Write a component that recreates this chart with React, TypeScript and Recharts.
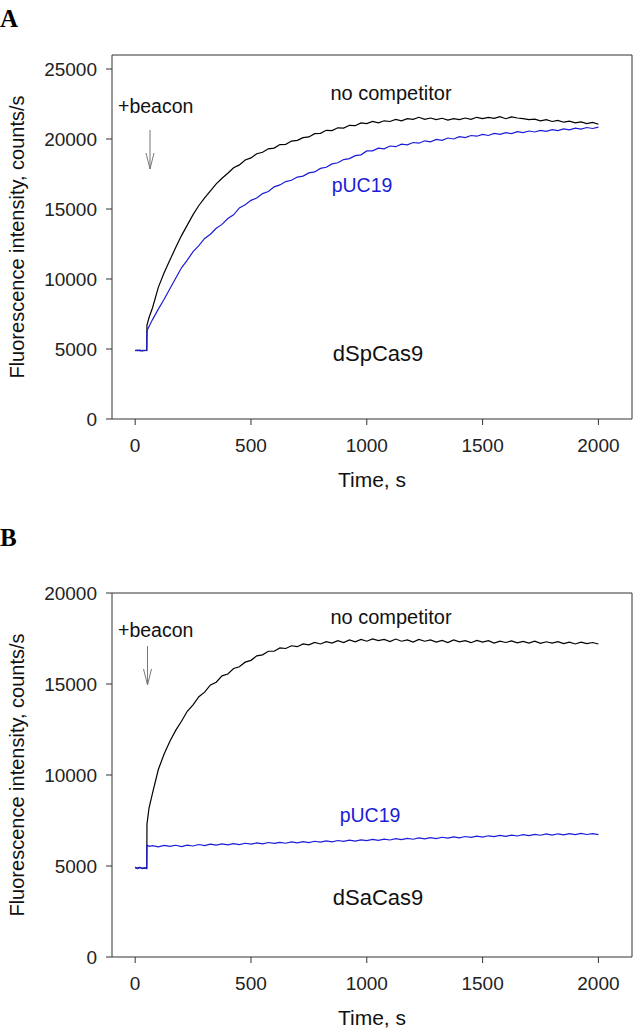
import React from "react";
import { LineChart, Line, XAxis, YAxis, ReferenceLine } from "recharts";

// sampling times, s (shared by all four traces)
const time = [
  0, 10, 20, 30, 40, 50, 51, 60,
  75, 100, 125, 150, 175, 200, 225, 250,
  275, 300, 325, 350, 375, 400, 425, 450,
  475, 500, 525, 550, 575, 600, 625, 650,
  675, 700, 725, 750, 775, 800, 825, 850,
  875, 900, 925, 950, 975, 1000, 1025, 1050,
  1075, 1100, 1125, 1150, 1175, 1200, 1225, 1250,
  1275, 1300, 1325, 1350, 1375, 1400, 1425, 1450,
  1475, 1500, 1525, 1550, 1575, 1600, 1625, 1650,
  1675, 1700, 1725, 1750, 1775, 1800, 1825, 1850,
  1875, 1900, 1925, 1950, 1975, 2000,
];

// panel A: dSpCas9
const noCompetitorA = [
  4900, 4880, 4920, 4870, 4910, 4890, 6700, 7250,
  7950, 9400, 10450, 11350, 12250, 13100, 13850, 14600,
  15250, 15800, 16300, 16800, 17200, 17550, 17950, 18150,
  18500, 18650, 18950, 19050, 19300, 19350, 19600, 19620,
  19850, 19900, 20100, 20150, 20380, 20400, 20620, 20600,
  20800, 20780, 20980, 20950, 21150, 21100, 21250, 21150,
  21300, 21250, 21400, 21300, 21450, 21400, 21550, 21400,
  21500, 21380, 21480, 21350, 21450, 21380, 21500, 21400,
  21550, 21450, 21550, 21480, 21600, 21450, 21580, 21500,
  21450, 21380, 21420, 21300, 21380, 21250, 21330, 21200,
  21280, 21150, 21220, 21100, 21180, 21050,
];
const pUC19A = [
  4880, 4920, 4870, 4900, 4890, 4910, 6300, 6600,
  7100, 7850, 8550, 9300, 10050, 10800, 11350, 11950,
  12380, 12900, 13200, 13620, 13900, 14320, 14580, 15080,
  15300, 15620, 15780, 16100, 16250, 16580, 16720, 16960,
  17050, 17280, 17350, 17580, 17650, 17900, 17980, 18220,
  18300, 18530, 18600, 18810, 18870, 19150, 19150, 19350,
  19300, 19500, 19450, 19630, 19580, 19750, 19700, 19870,
  19800, 19970, 19900, 20070, 20000, 20170, 20100, 20250,
  20200, 20330, 20250, 20400, 20330, 20460, 20380, 20520,
  20450, 20570, 20500, 20620, 20550, 20670, 20600, 20720,
  20650, 20770, 20700, 20820, 20750, 20850,
];

// panel B: dSaCas9
const noCompetitorB = [
  4900, 4880, 4920, 4870, 4900, 4890, 7300, 8200,
  9000, 10300, 11150, 11850, 12450, 12950, 13500, 13850,
  14300, 14550, 14950, 15100, 15450, 15550, 15850, 15950,
  16200, 16300, 16550, 16600, 16800, 16800, 16980, 16950,
  17100, 17050, 17200, 17150, 17280, 17200, 17330, 17250,
  17380, 17280, 17420, 17320, 17450, 17350, 17480, 17380,
  17450, 17330, 17470, 17350, 17420, 17300, 17450, 17350,
  17420, 17300, 17400, 17280, 17420, 17320, 17380, 17270,
  17400, 17300, 17380, 17250, 17350, 17280, 17370, 17260,
  17340, 17250, 17350, 17230, 17320, 17250, 17330, 17220,
  17300, 17200, 17300, 17220, 17280, 17200,
];
const pUC19B = [
  4950, 4850, 4920, 4860, 4900, 4850, 6150, 6080,
  6120, 6050, 6130, 6080, 6140, 6070, 6150, 6100,
  6180, 6120, 6200, 6150, 6210, 6160, 6230, 6180,
  6250, 6200, 6270, 6220, 6290, 6240, 6300, 6250,
  6320, 6270, 6340, 6290, 6360, 6310, 6380, 6330,
  6400, 6350, 6420, 6370, 6440, 6390, 6460, 6410,
  6480, 6430, 6500, 6450, 6520, 6470, 6540, 6490,
  6560, 6510, 6580, 6530, 6600, 6550, 6620, 6570,
  6640, 6590, 6660, 6610, 6680, 6630, 6700, 6650,
  6720, 6670, 6740, 6690, 6760, 6700, 6770, 6710,
  6780, 6720, 6790, 6730, 6780, 6720,
];

const xTicks = [0, 500, 1000, 1500, 2000];
const yTicksA = [0, 5000, 10000, 15000, 20000, 25000];
const yTicksB = [0, 5000, 10000, 15000, 20000];
const xDomain: [number, number] = [-100, 2145];

const FONT = "Arial, 'Liberation Sans', sans-serif";
const AXIS = "#333";
const BLUE = "#1c1cd8";

const makeRows = (a: number[], b: number[]) =>
  time.map((t, i) => ({ t, noComp: a[i], puc: b[i] }));

function Panel({ top, rows, yMax, yTicks }: { top: number; rows: any[]; yMax: number; yTicks: number[] }) {
  const tick = { fontSize: 19, fill: "#222", fontFamily: FONT };
  return (
    <div style={{ position: "absolute", left: 0, top, width: 633, height: 493 }}>
      <LineChart width={633} height={493} data={rows} margin={{ top: 55, right: 1, bottom: 34, left: 0 }}>
        <XAxis
          dataKey="t"
          type="number"
          domain={xDomain}
          ticks={xTicks}
          tickSize={6}
          tickMargin={14}
          height={40}
          tick={tick}
          stroke={AXIS}
          allowDataOverflow
        />
        <YAxis
          type="number"
          domain={[0, yMax]}
          ticks={yTicks}
          tickSize={6}
          tickMargin={9}
          width={112}
          tick={tick}
          stroke={AXIS}
          allowDataOverflow
        />
        {/* frame: top and right edges of the box */}
        <ReferenceLine y={yMax} stroke={AXIS} strokeWidth={1} />
        <ReferenceLine x={xDomain[1]} stroke={AXIS} strokeWidth={1} />
        <Line dataKey="noComp" stroke="#000" strokeWidth={1.2} dot={false} type="linear" isAnimationActive={false} />
        <Line dataKey="puc" stroke={BLUE} strokeWidth={1.2} dot={false} type="linear" isAnimationActive={false} />
      </LineChart>
    </div>
  );
}

function Notes() {
  const txt = { fontFamily: FONT, fill: "#111" } as const;
  const serif = "'Times New Roman', 'Liberation Serif', serif";
  return (
    <svg width={633} height={1031} style={{ position: "absolute", left: 0, top: 0, pointerEvents: "none" }}>
      {/* panel letters */}
      <text x={0} y={27} fontFamily={serif} fontWeight="bold" fontSize={25}>A</text>
      <text x={0} y={546} fontFamily={serif} fontWeight="bold" fontSize={25}>B</text>

      {/* axis titles */}
      <text {...txt} fontSize={20} x={24} y={237} textAnchor="middle" transform="rotate(-90, 24, 237)">
        Fluorescence intensity, counts/s
      </text>
      <text {...txt} fontSize={20} x={24} y={775} textAnchor="middle" transform="rotate(-90, 24, 775)">
        Fluorescence intensity, counts/s
      </text>
      <text {...txt} fontSize={21} x={372} y={487} textAnchor="middle">Time, s</text>
      <text {...txt} fontSize={21} x={372} y={1025} textAnchor="middle">Time, s</text>

      {/* panel A annotations */}
      <text {...txt} fontSize={19.5} x={118} y={113}>+beacon</text>
      <line x1={150} y1={130} x2={150} y2={169} stroke="#777" strokeWidth={1} />
      <polyline points="146,153 150,169 154,153" fill="none" stroke="#777" strokeWidth={1} />
      <text {...txt} fontSize={20} x={391} y={100} textAnchor="middle">no competitor</text>
      <text {...txt} fontSize={19.5} x={362} y={192} textAnchor="middle" fill={BLUE}>pUC19</text>
      <text {...txt} fontSize={22} x={378} y={361} textAnchor="middle">dSpCas9</text>

      {/* panel B annotations */}
      <text {...txt} fontSize={19.5} x={118} y={637}>+beacon</text>
      <line x1={147.5} y1={646} x2={147.5} y2={685} stroke="#777" strokeWidth={1} />
      <polyline points="143.5,669 147.5,685 151.5,669" fill="none" stroke="#777" strokeWidth={1} />
      <text {...txt} fontSize={20} x={391} y={624} textAnchor="middle">no competitor</text>
      <text {...txt} fontSize={19.5} x={370} y={822} textAnchor="middle" fill={BLUE}>pUC19</text>
      <text {...txt} fontSize={22} x={378} y={905} textAnchor="middle">dSaCas9</text>
    </svg>
  );
}

export default function App() {
  return (
    <div style={{ position: "absolute", left: 0, top: 0, width: 633, height: 1031, background: "#fff", overflow: "hidden" }}>
      <Panel top={0} rows={makeRows(noCompetitorA, pUC19A)} yMax={26000} yTicks={yTicksA} />
      <Panel top={538} rows={makeRows(noCompetitorB, pUC19B)} yMax={20000} yTicks={yTicksB} />
      <Notes />
    </div>
  );
}
